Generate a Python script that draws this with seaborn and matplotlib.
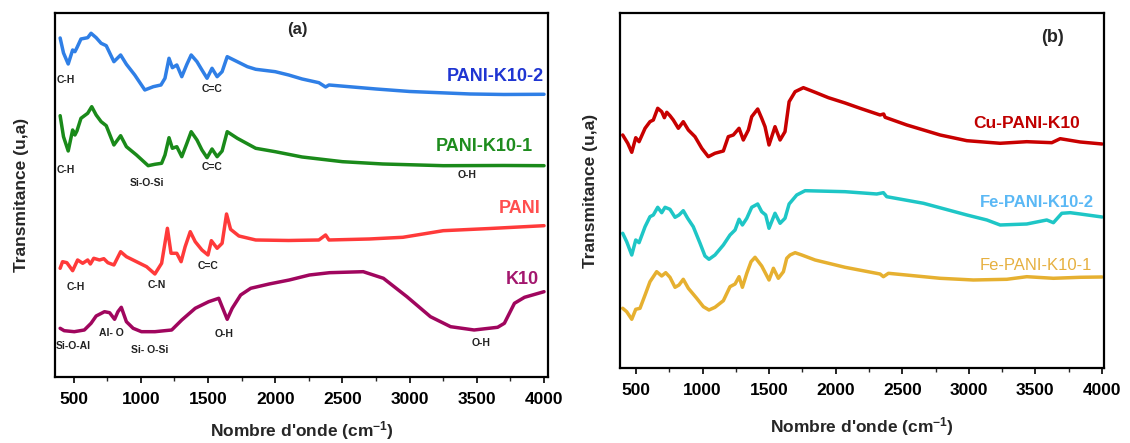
import numpy as np
import pandas as pd
import matplotlib
matplotlib.use("Agg")
import matplotlib.pyplot as plt
from matplotlib.ticker import MultipleLocator, NullLocator
import seaborn as sns

# ---------------- (a) PANI / K10 series: wavenumber (cm-1), transmittance (a.u.) ----------------
w_pk2 = [400, 425, 460, 493, 510, 525, 555, 605, 630, 668, 705, 743, 800, 850, 893, 955, 1030,
         1093, 1150, 1180, 1210, 1235, 1268, 1305, 1343, 1375, 1418, 1455, 1493, 1530, 1568, 1605,
         1643, 1718, 1793, 1855, 2000, 2100, 2200, 2325, 2375, 2400, 2750, 3000, 3450, 3700, 4000]
t_pk2 = [339, 324, 313, 327, 325.3, 329.3, 338, 339.3, 343.7, 339.3, 333.7, 331.3, 315.3, 322,
         312.7, 302, 287, 290.3, 292, 298.7, 318.7, 309.3, 312, 300.3, 312.7, 322, 315.3, 307,
         298.7, 308.7, 300.3, 305.3, 320.3, 315.3, 310.3, 307.7, 305.3, 302, 298, 294.3, 290, 292,
         288, 285.5, 283, 282.5, 282.7]

w_pk1 = [400, 425, 460, 493, 510, 525, 555, 605, 635, 668, 705, 743, 800, 850, 893, 968, 1055,
         1105, 1155, 1180, 1210, 1235, 1268, 1305, 1343, 1375, 1418, 1455, 1493, 1530, 1568, 1605,
         1643, 1718, 1855, 2000, 2200, 2500, 2800, 3250, 3700, 4000]
t_pk1 = [261.3, 240.3, 226, 247, 242, 246, 258.7, 263.7, 270.3, 262, 255.3, 251.3, 232, 241.3,
         230.3, 222, 211.3, 212.7, 213.7, 222, 239.3, 228.7, 230.3, 220.3, 233.7, 245.3, 237, 227,
         219.3, 228, 220.3, 226, 245.3, 238.7, 228.7, 225.3, 220, 215.3, 213, 211.3, 211.5, 211.3]

w_pani = [400, 418, 450, 493, 530, 568, 605, 625, 650, 693, 725, 755, 800, 850, 893, 968, 1043,
          1105, 1155, 1198, 1225, 1268, 1300, 1330, 1368, 1405, 1455, 1500, 1525, 1568, 1605, 1638,
          1668, 1730, 1855, 2100, 2325, 2375, 2400, 2700, 2950, 3250, 3600, 4000]
t_pani = [108.7, 115.3, 114.3, 106.3, 117, 113.7, 117, 113, 118.7, 117, 118.3, 114.3, 112, 125.3,
          120.3, 115.3, 110.3, 103, 113.7, 148.7, 123.7, 123.7, 115.3, 130.3, 145.3, 135.3, 127,
          122, 136.3, 128.7, 133.7, 163, 147.7, 141, 137, 136.5, 137, 142, 137, 138, 139.7, 146.3,
          148.5, 151.3]

w_k10 = [400, 430, 505, 580, 630, 668, 730, 768, 805, 830, 855, 893, 943, 1005, 1105, 1230, 1305,
         1405, 1505, 1580, 1605, 1643, 1680, 1743, 1818, 1955, 2105, 2255, 2405, 2655, 2805, 2980,
         3155, 3305, 3480, 3655, 3705, 3780, 3855, 4000]
t_k10 = [48.7, 46.3, 45.3, 47, 53.7, 61, 65.3, 64.3, 57.7, 65.3, 69.7, 55.3, 48.7, 45.3, 45.3, 47,
         57, 68.7, 75.3, 78.7, 70.3, 57.7, 68.7, 82, 88.7, 93, 97, 102, 104.3, 105.3, 98.7, 80.3,
         60.3, 50.3, 47, 49.7, 53.7, 73.7, 79.7, 85.3]

# ---------------- (b) metal-doped series ----------------
w_cu = [400, 438, 468, 498, 523, 568, 605, 630, 663, 693, 713, 731, 755, 780, 818, 855, 893, 943,
        994, 1043, 1093, 1156, 1193, 1231, 1274, 1306, 1344, 1369, 1414, 1444, 1469, 1499, 1544,
        1582, 1619, 1650, 1695, 1757, 1845, 1945, 2070, 2183, 2333, 2360, 2371, 2534, 2784, 2985,
        3235, 3435, 3623, 3686, 3836, 4000]
t_cu = [233, 224.7, 215.7, 230.3, 226.3, 239.7, 246.3, 248, 259.7, 256.3, 250.3, 255.7, 252.3,
        248, 239.7, 246.3, 238, 231.3, 219.7, 211.3, 214.7, 217, 231.3, 233, 239.7, 228, 238,
        251.3, 259, 249.7, 241.3, 223, 241.3, 228, 236.3, 266.3, 276.3, 280.3, 275.7, 270.3, 265,
        259.7, 253, 254, 250.7, 243, 233, 227.3, 224.7, 226.3, 225.3, 229.3, 226, 224]

w_fe2 = [400, 430, 468, 498, 523, 568, 605, 630, 663, 693, 718, 755, 793, 823, 855, 888, 930, 981,
         1018, 1048, 1093, 1156, 1206, 1244, 1274, 1299, 1332, 1369, 1414, 1444, 1474, 1499, 1544,
         1582, 1619, 1650, 1707, 1770, 2070, 2308, 2358, 2383, 2659, 2985, 3135, 3235, 3435, 3585,
         3635, 3698, 3761, 3836, 4000]
t_fe2 = [134.7, 126.3, 113, 128, 125.3, 141.3, 151.3, 153, 160.7, 155.3, 160.7, 158.7, 150.7, 153,
         157.3, 149.7, 141.3, 124.7, 112, 108.7, 113, 123, 133, 138, 148.7, 143, 149.7, 160.7, 164,
         156.3, 153, 139.7, 154.7, 144.7, 149.7, 164, 173, 177.3, 176.3, 174, 175.3, 171.3, 164.7,
         153, 148, 143, 144, 148, 145.3, 154.7, 155.3, 154, 151]

w_fe1 = [400, 430, 468, 498, 530, 568, 605, 655, 693, 723, 755, 793, 823, 855, 893, 956, 1006,
         1048, 1093, 1156, 1206, 1244, 1274, 1299, 1332, 1364, 1394, 1444, 1499, 1532, 1569, 1607,
         1632, 1657, 1695, 1745, 1845, 2070, 2333, 2358, 2396, 2784, 3034, 3285, 3435, 3635, 3836,
         4000]
t_fe1 = [59.7, 56.3, 48.7, 58.7, 59.7, 73, 86.3, 96.3, 92, 95.3, 90.7, 80.7, 83, 88.7, 79.7, 69.7,
         61.3, 58, 60.7, 67.3, 81.3, 84, 91.3, 80.7, 94.7, 106.3, 110.7, 102, 88, 99.7, 89.7, 96.3,
         109.7, 113, 115.3, 113, 108, 100.7, 94, 91.3, 94.7, 89.7, 88, 88.7, 91.3, 89.7, 90.7, 91]

names_a = ["PANI-K10-2", "PANI-K10-1", "PANI", "K10"]
names_b = ["Cu-PANI-K10", "Fe-PANI-K10-2", "Fe-PANI-K10-1"]

line_colors = {
    "PANI-K10-2": "#2f7fe6", "PANI-K10-1": "#1a8a1a", "PANI": "#ff3a3a", "K10": "#a0065e",
    "Cu-PANI-K10": "#c80000", "Fe-PANI-K10-2": "#1ec6c6", "Fe-PANI-K10-1": "#e6b030",
}
text_colors = {
    "PANI-K10-2": "#1f35d2", "PANI-K10-1": "#1e8c1e", "PANI": "#ff4f4f", "K10": "#a3176e",
    "Cu-PANI-K10": "#c00000", "Fe-PANI-K10-2": "#5ab8f5", "Fe-PANI-K10-1": "#e6b040",
}


def frame(names, ws, ts):
    parts = [pd.DataFrame({"wavenumber": w, "T": t, "sample": n}) for n, w, t in zip(names, ws, ts)]
    return pd.concat(parts, ignore_index=True)


df_a = frame(names_a, [w_pk2, w_pk1, w_pani, w_k10], [t_pk2, t_pk1, t_pani, t_k10])
df_b = frame(names_b, [w_cu, w_fe2, w_fe1], [t_cu, t_fe2, t_fe1])

sns.set_theme(style="ticks")
plt.rcParams["font.family"] = ["Liberation Sans", "DejaVu Sans"]
plt.rcParams["mathtext.default"] = "regular"

fig = plt.figure(figsize=(11.3, 4.43), dpi=100)
ax_a = fig.add_axes([0.0487, 0.149, 0.4363, 0.8217])
ax_b = fig.add_axes([0.5487, 0.1693, 0.4283, 0.8014])

for ax, df, names in ((ax_a, df_a, names_a), (ax_b, df_b, names_b)):
    sns.lineplot(data=df, x="wavenumber", y="T", hue="sample", hue_order=names,
                 palette=line_colors, estimator=None, sort=False, legend=False,
                 linewidth=2.5, ax=ax)
    for ln in ax.get_lines():
        ln.set_solid_joinstyle("round")
        ln.set_solid_capstyle("round")

ax_a.set_xlim(362, 4030)
ax_a.set_ylim(0, 364)
ax_b.set_xlim(380, 4015)
ax_b.set_ylim(0, 355)

for ax in (ax_a, ax_b):
    for sp in ax.spines.values():
        sp.set_visible(True)
        sp.set_linewidth(1.6)
        sp.set_color("black")
    ax.xaxis.set_major_locator(MultipleLocator(500))
    ax.xaxis.set_minor_locator(MultipleLocator(250))
    ax.yaxis.set_major_locator(NullLocator())
    ax.yaxis.set_minor_locator(NullLocator())
    ax.tick_params(axis="x", which="major", direction="out", length=4.5, width=1.2,
                   pad=6.5, labelsize=12.5, colors="black")
    ax.tick_params(axis="x", which="minor", direction="out", length=2.8, width=1.0)
    ax.tick_params(axis="x", which="both", top=False)
    for lab in ax.get_xticklabels():
        lab.set_fontweight("bold")
    ax.set_xlabel("Nombre d'onde (cm$^{-1}$)", fontsize=12.5, fontweight="bold")
    ax.set_ylabel("Transmitance (u,a)", fontsize=12.5, fontweight="bold")

ax_a.xaxis.set_label_coords(0.5, -0.115)
ax_b.xaxis.set_label_coords(0.5, -0.133)
ax_a.yaxis.set_label_coords(-0.052, 0.5)
ax_b.yaxis.set_label_coords(-0.045, 0.5)

# panel tags
ax_a.text(2167, 347, "(a)", fontsize=12, fontweight="bold", ha="center", va="center")
ax_b.text(3625, 330, "(b)", fontsize=13, fontweight="bold", ha="center", va="center")

# series names, panel (a)
ax_a.text(4000, 300, "PANI-K10-2", color=text_colors["PANI-K10-2"], fontsize=13,
          fontweight="bold", ha="right", va="center")
ax_a.text(3915, 230, "PANI-K10-1", color=text_colors["PANI-K10-1"], fontsize=13,
          fontweight="bold", ha="right", va="center")
ax_a.text(3977, 168, "PANI", color=text_colors["PANI"], fontsize=13,
          fontweight="bold", ha="right", va="center")
ax_a.text(3965, 97.7, "K10", color=text_colors["K10"], fontsize=13,
          fontweight="bold", ha="right", va="center")

# band assignments, panel (a)
bands = [
    (442, 297, "C-H"), (1531, 287.7, "C=C"),
    (442, 207, "C-H"), (1044, 194.3, "Si-O-Si"), (1531, 210.3, "C=C"), (3425, 202, "O-H"),
    (513, 90.3, "C-H"), (1118, 92, "C-N"), (1503, 111, "C=C"),
    (500, 31.3, "Si-O-Al"), (779, 43.7, "Al- O"), (1064, 27, "Si- O-Si"),
    (1617, 43, "O-H"), (3530, 33.7, "O-H"),
]
for x, y, s in bands:
    ax_a.text(x, y, s, fontsize=7.5, fontweight="bold", color="#222222",
              ha="center", va="center")

# series names, panel (b)
ax_b.text(3034, 244.7, "Cu-PANI-K10", color=text_colors["Cu-PANI-K10"], fontsize=12.5,
          fontweight="bold", ha="left", va="center")
ax_b.text(3079, 165.3, "Fe-PANI-K10-2", color=text_colors["Fe-PANI-K10-2"], fontsize=12,
          fontweight="bold", ha="left", va="center")
ax_b.text(3079, 102, "Fe-PANI-K10-1", color=text_colors["Fe-PANI-K10-1"], fontsize=12,
          ha="left", va="center")

fig.savefig("out.png", dpi=100, facecolor="white")
